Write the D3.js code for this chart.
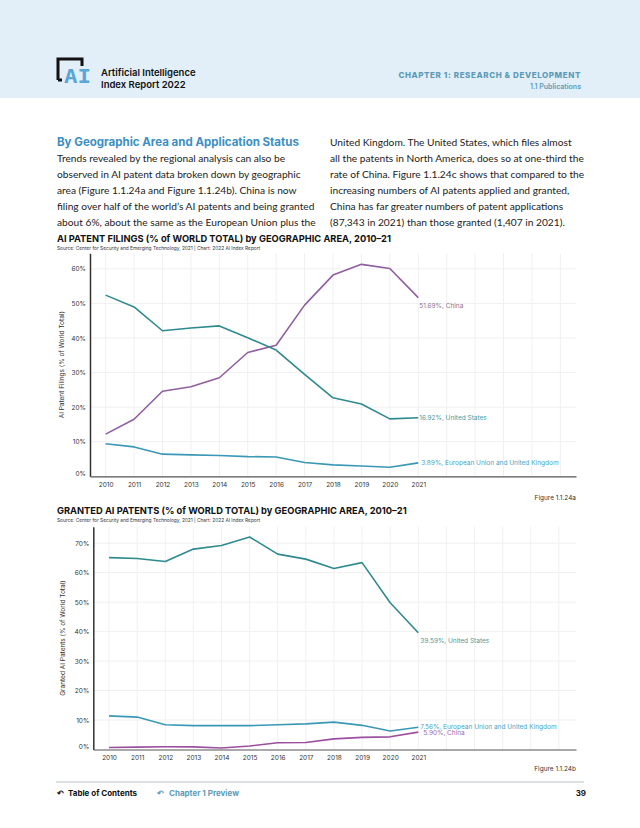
<!DOCTYPE html>
<html><head><meta charset="utf-8">
<script src="https://cdn.jsdelivr.net/npm/d3@7"></script>
<style>
html,body{margin:0;padding:0;background:#fff;}
svg{display:block;}
</style></head>
<body>
<svg id="c" width="640" height="828"></svg>
<script>
// ---------- DATA ----------
const years = [2010,2011,2012,2013,2014,2015,2016,2017,2018,2019,2020,2021];

// Figure 1.1.24a – AI patent filings (% of world total)
const filingsChina = [12.2,16.5,24.6,25.9,28.5,35.8,37.9,49.5,58.2,61.3,60.1,51.69];
const filingsUS    = [52.4,49.0,42.1,42.9,43.5,40.1,36.5,29.5,22.7,20.9,16.6,16.92];
const filingsEUUK  = [9.4,8.5,6.4,6.2,6.0,5.7,5.6,4.0,3.3,3.0,2.6,3.89];

// Figure 1.1.24b – granted AI patents (% of world total)
const grantedUS    = [65.1,64.8,63.8,68.0,69.2,72.1,66.3,64.6,61.4,63.4,49.8,39.59];
const grantedEUUK  = [11.4,11.0,8.4,8.1,8.1,8.1,8.4,8.7,9.3,8.2,6.3,7.56];
const grantedChina = [0.7,0.8,0.95,0.9,0.5,1.2,2.3,2.4,3.6,4.1,4.3,5.90];

const yTicks1 = [0,10,20,30,40,50,60];
const yTicks2 = [0,10,20,30,40,50,60,70];

const paraLeft = [
  "Trends revealed by the regional analysis can also be",
  "observed in AI patent data broken down by geographic",
  "area (Figure 1.1.24a and Figure 1.1.24b). China is now",
  "filing over half of the world\u2019s AI patents and being granted",
  "about 6%, about the same as the European Union plus the"
];
const paraRight = [
  "United Kingdom. The United States, which files almost",
  "all the patents in North America, does so at one-third the",
  "rate of China. Figure 1.1.24c shows that compared to the",
  "increasing numbers of AI patents applied and granted,",
  "China has far greater numbers of patent applications",
  "(87,343 in 2021) than those granted (1,407 in 2021)."
];

// ---------- STYLE ----------
const C_CHINA = "#8f5f9f", C_US = "#2f8a8e", C_EU = "#3a98b6";
const L_CHINA = "#8a7795", L_US = "#3b9ea3", L_EU = "#4ba3c3";
const GEO = "Inter, 'Noto Sans', sans-serif";
const BODY = "Lato, 'Open Sans', sans-serif";

const svg = d3.select("#c");

// header band
svg.append("rect").attr("x",0).attr("y",0).attr("width",640).attr("height",98).attr("fill","#e2eff9");
// logo
const lg = svg.append("g");
lg.append("path").attr("d","M58,80 L58,59 L82,59 L82,66").attr("fill","none").attr("stroke","#111").attr("stroke-width",3);
lg.append("path").attr("d","M58,80 L62,80").attr("stroke","#111").attr("stroke-width",3);
lg.append("text").attr("x",64).attr("y",83).attr("font-family","'DejaVu Sans Mono', monospace").attr("font-weight","bold")
  .attr("font-size",20).attr("fill","#5aa6d6").attr("textLength",27).attr("lengthAdjust","spacingAndGlyphs").text("AI");
svg.append("text").attr("x",101).attr("y",76).attr("font-family",GEO).attr("font-weight",600).attr("font-size",9.5).attr("fill","#111").text("Artificial Intelligence");
svg.append("text").attr("x",101).attr("y",87.5).attr("font-family",GEO).attr("font-weight",600).attr("font-size",9.5).attr("fill","#111").text("Index Report 2022");
svg.append("text").attr("x",581).attr("y",78).attr("text-anchor","end").attr("font-family",GEO).attr("font-weight",800).attr("font-size",8).attr("letter-spacing",0.6).attr("fill","#5c9bb8").text("CHAPTER 1: RESEARCH & DEVELOPMENT");
svg.append("text").attr("x",581).attr("y",88.5).attr("text-anchor","end").attr("font-family",GEO).attr("font-weight",600).attr("font-size",7).attr("fill","#5c9bb8").text("1.1 Publications");

// body text
svg.append("text").attr("x",57).attr("y",146).attr("font-family",GEO).attr("font-weight",700).attr("font-size",11.5).attr("fill","#3b8fc4").text("By Geographic Area and Application Status");
paraLeft.forEach((t,i)=>svg.append("text").attr("x",57).attr("y",162+i*16).attr("font-family",BODY).attr("font-size",10.2).attr("fill","#222").text(t));
paraRight.forEach((t,i)=>svg.append("text").attr("x",330).attr("y",146+i*16).attr("font-family",BODY).attr("font-size",10.2).attr("fill","#222").text(t));

// ---------- CHART BUILDER ----------
function chart(o){
  const g = svg.append("g");
  g.append("text").attr("x",57).attr("y",o.titleY).attr("font-family",GEO).attr("font-weight",700).attr("font-size",9.3).attr("fill","#111").text(o.title);
  g.append("text").attr("x",57).attr("y",o.titleY+8).attr("font-family",GEO).attr("font-size",4.8).attr("fill","#333").text("Source: Center for Security and Emerging Technology, 2021 | Chart: 2022 AI Index Report");

  const x = d3.scaleLinear().domain(o.xDom).range(o.xRange);
  const y = d3.scaleLinear().domain(o.yDom).range(o.yRange);
  const gridYears = d3.range(2010, Math.floor(o.xDom[1])+1);

  // grid
  g.append("g").selectAll("line").data(gridYears).join("line")
    .attr("x1",d=>x(d)).attr("x2",d=>x(d)).attr("y1",o.yRange[0]).attr("y2",o.yRange[1])
    .attr("stroke","#f0f0f0").attr("stroke-width",1);
  g.append("g").selectAll("line").data(o.yTicks.filter(d=>d>0)).join("line")
    .attr("x1",o.xRange[0]).attr("x2",o.xRange[1]).attr("y1",d=>y(d)).attr("y2",d=>y(d))
    .attr("stroke","#f0f0f0").attr("stroke-width",1);

  // axes
  const ya = d3.axisLeft(y).tickValues(o.yTicks).tickFormat(d=>d+"%").tickSize(0).tickPadding(4);
  const yg = g.append("g").attr("transform",`translate(${o.xRange[0]},0)`).call(ya);
  yg.select(".domain").attr("stroke","#333").attr("stroke-width",1.5);
  yg.selectAll("text").attr("font-family",GEO).attr("font-size",6.5).attr("fill","#333")
    .attr("dy",d=>d===0?"-0.1em":"0.32em");

  const xa = d3.axisBottom(x).tickValues(years).tickFormat(d3.format("d")).tickSize(0).tickPadding(6);
  const xg = g.append("g").attr("transform",`translate(0,${o.yRange[0]})`).call(xa);
  xg.select(".domain").attr("stroke","#555").attr("stroke-width",1.2);
  xg.selectAll("text").attr("font-family",GEO).attr("font-size",6.5).attr("fill","#333");

  g.append("text").attr("transform",`translate(${o.ytX},${(o.yRange[0]+o.yRange[1])/2}) rotate(-90)`)
    .attr("text-anchor","middle").attr("font-family",GEO).attr("font-size",6.5).attr("fill","#333").text(o.yTitle);

  const line = d3.line().x((d,i)=>x(years[i])).y(d=>y(d));
  o.series.forEach(s=>{
    g.append("path").datum(s.values).attr("d",line).attr("fill","none")
      .attr("stroke",s.color).attr("stroke-width",1.6).attr("stroke-linejoin","round");
    const last = s.values[s.values.length-1];
    g.append("text").attr("x",x(2021)+s.dx).attr("y",y(last)+s.dy)
      .attr("font-family",GEO).attr("font-size",6.5).attr("fill",s.lcolor)
      .text(d3.format(".2f")(last)+"%, "+s.name);
  });

  g.append("text").attr("x",576).attr("y",o.figY).attr("text-anchor","end").attr("font-family",GEO).attr("font-size",6.5).attr("fill","#333").text(o.fig);
}

chart({
  title:"AI PATENT FILINGS (% of WORLD TOTAL) by GEOGRAPHIC AREA, 2010\u201321",
  titleY:242,
  xDom:[2009.45,2026.55], xRange:[90,576],
  yDom:[0,64.5], yRange:[476.3,253.3],
  yTicks:yTicks1,
  ytX:64, yTitle:"AI Patent Filings (% of World Total)",
  series:[
    {name:"China", values:filingsChina, color:C_CHINA, lcolor:L_CHINA, dx:1, dy:10},
    {name:"United States", values:filingsUS, color:C_US, lcolor:L_US, dx:1, dy:2.5},
    {name:"European Union and United Kingdom", values:filingsEUUK, color:C_EU, lcolor:L_EU, dx:3, dy:2.5}
  ],
  fig:"Figure 1.1.24a", figY:500
});

chart({
  title:"GRANTED AI PATENTS (% of WORLD TOTAL) by GEOGRAPHIC AREA, 2010\u201321",
  titleY:514,
  xDom:[2009.44,2026.61], xRange:[93.3,576],
  yDom:[0,75.6], yRange:[749.5,526.7],
  yTicks:yTicks2,
  ytX:65, yTitle:"Granted AI Patents (% of World Total)",
  series:[
    {name:"United States", values:grantedUS, color:C_US, lcolor:L_US, dx:2, dy:10},
    {name:"European Union and United Kingdom", values:grantedEUUK, color:C_EU, lcolor:L_EU, dx:2, dy:1.5},
    {name:"China", values:grantedChina, color:"#9c4f9e", lcolor:"#a06aa6", dx:5, dy:3}
  ],
  fig:"Figure 1.1.24b", figY:771
});

// footer
svg.append("line").attr("x1",56).attr("x2",584).attr("y1",782).attr("y2",782).attr("stroke","#b8c2c8").attr("stroke-width",1.2);
svg.append("text").attr("x",57).attr("y",796).attr("font-family",GEO).attr("font-weight",700).attr("font-size",8).attr("fill","#111").text("\u21B6");
svg.append("text").attr("x",68).attr("y",796).attr("font-family",GEO).attr("font-weight",700).attr("font-size",8).attr("fill","#111").text("Table of Contents");
svg.append("text").attr("x",157).attr("y",796).attr("font-family",GEO).attr("font-weight",700).attr("font-size",8).attr("fill","#5c9bb8").text("\u21B6");
svg.append("text").attr("x",169).attr("y",796).attr("font-family",GEO).attr("font-weight",700).attr("font-size",8).attr("fill","#5c9bb8").text("Chapter 1 Preview");
svg.append("text").attr("x",586).attr("y",796).attr("text-anchor","end").attr("font-family",GEO).attr("font-weight",700).attr("font-size",8).attr("fill","#111").text("39");
</script>
</body></html>
